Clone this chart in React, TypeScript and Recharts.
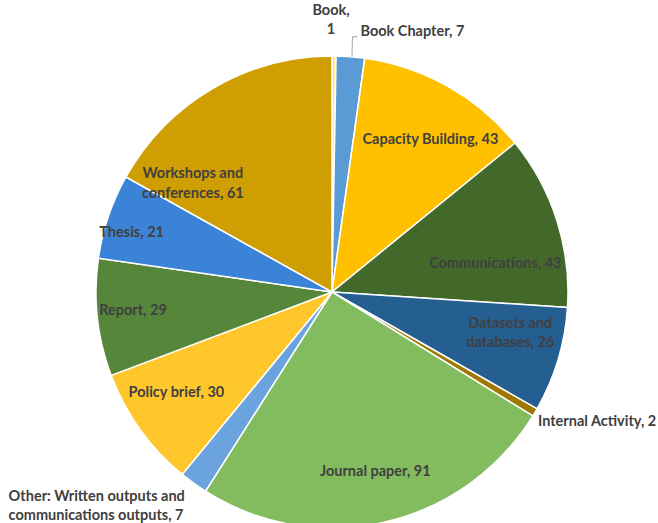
// Research outputs by type — pie chart
import { PieChart, Pie, Cell } from 'recharts';

const outputTypes = [
  'Book',
  'Book Chapter',
  'Capacity Building',
  'Communications',
  'Datasets and databases',
  'Internal Activity',
  'Journal paper',
  'Other: Written outputs and communications outputs',
  'Policy brief',
  'Report',
  'Thesis',
  'Workshops and conferences',
];

const outputCounts = [1, 7, 43, 43, 26, 2, 91, 7, 30, 29, 21, 61];

const sliceColors = [
  '#FFE699', // Book
  '#5B9BD5', // Book Chapter
  '#FFC000', // Capacity Building
  '#43692A', // Communications
  '#255E91', // Datasets
  '#9E7800', // Internal Activity
  '#83BC5F', // Journal paper
  '#6AA3DD', // Other
  '#FFC72C', // Policy brief
  '#56863A', // Report
  '#3B83D6', // Thesis
  '#CF9E03', // Workshops
];

// label placement: radius ratio, pixel nudge, anchor, words on first line
type LabelLayout = {
  r: number;
  dx: number;
  dy: number;
  anchor: 'start' | 'middle' | 'end';
  firstLineWords?: number;
  leader?: boolean;
};

const LABEL_LAYOUT: Record<string, LabelLayout> = {
  Book: { r: 1, dx: -3, dy: -37, anchor: 'middle', firstLineWords: 1 },
  'Book Chapter': { r: 1, dx: 10, dy: -26, anchor: 'start', leader: true },
  'Capacity Building': { r: 0.78, dx: 8, dy: 7, anchor: 'middle' },
  Communications: { r: 0.78, dx: -12, dy: 26, anchor: 'middle' },
  'Datasets and databases': { r: 0.78, dx: 2, dy: -13, anchor: 'middle', firstLineWords: 2 },
  'Internal Activity': { r: 1, dx: 3, dy: 8, anchor: 'start' },
  'Journal paper': { r: 0.78, dx: 2, dy: -1, anchor: 'middle' },
  'Other: Written outputs and communications outputs': {
    r: 1,
    dx: -185,
    dy: 22,
    anchor: 'start',
    firstLineWords: 4,
  },
  'Policy brief': { r: 0.78, dx: -6, dy: -8, anchor: 'middle' },
  Report: { r: 0.78, dx: -16, dy: -2, anchor: 'middle' },
  Thesis: { r: 0.78, dx: -26, dy: -1, anchor: 'middle' },
  'Workshops and conferences': { r: 0.78, dx: -46, dy: 49, anchor: 'middle', firstLineWords: 2 },
};

const chartData = outputTypes.map((name, i) => ({ name, value: outputCounts[i] }));

const RAD = Math.PI / 180;
const LINE_H = 19.5;

function renderLabel(props: any) {
  const { cx, cy, midAngle, outerRadius, name, value } = props;
  const layout = LABEL_LAYOUT[name];
  if (!layout) return null;
  const bx = cx + outerRadius * layout.r * Math.cos(-midAngle * RAD);
  const by = cy + outerRadius * layout.r * Math.sin(-midAngle * RAD);
  const x = bx + layout.dx;
  const y = by + layout.dy;

  const words = `${name}, ${value}`.split(' ');
  const lines = layout.firstLineWords
    ? [words.slice(0, layout.firstLineWords).join(' '), words.slice(layout.firstLineWords).join(' ')]
    : [words.join(' ')];
  const top = y - ((lines.length - 1) * LINE_H) / 2;

  return (
    <g key={`label-${name}`}>
      {layout.leader && (
        <polyline
          points={`${bx + 1.5},${by} ${bx + 2},${by - 20} ${bx + 7},${by - 20}`}
          fill="none"
          stroke="#a6a6a6"
          strokeWidth={1}
        />
      )}
      <text
        x={x}
        y={top}
        textAnchor={layout.anchor}
        fill="#404040"
        fontFamily="Lato, 'Open Sans', sans-serif"
        fontWeight={700}
        fontSize={14.5}
      >
        {lines.map((line, i) => (
          <tspan key={i} x={x} y={top + i * LINE_H} dominantBaseline="central">
            {line}
          </tspan>
        ))}
      </text>
    </g>
  );
}

export default function App() {
  return (
    <div style={{ position: 'absolute', left: 0, top: 0, width: 658, height: 523, background: '#fff' }}>
      <PieChart width={658} height={523} margin={{ top: 0, right: 0, bottom: 0, left: 0 }}>
        <Pie
          data={chartData}
          dataKey="value"
          nameKey="name"
          cx={332}
          cy={292}
          outerRadius={236}
          startAngle={90}
          endAngle={-270}
          stroke="#ffffff"
          strokeWidth={1.5}
          labelLine={false}
          label={renderLabel}
          isAnimationActive={false}
        >
          {chartData.map((entry, i) => (
            <Cell key={`cell-${entry.name}`} fill={sliceColors[i]} />
          ))}
        </Pie>
      </PieChart>
    </div>
  );
}
